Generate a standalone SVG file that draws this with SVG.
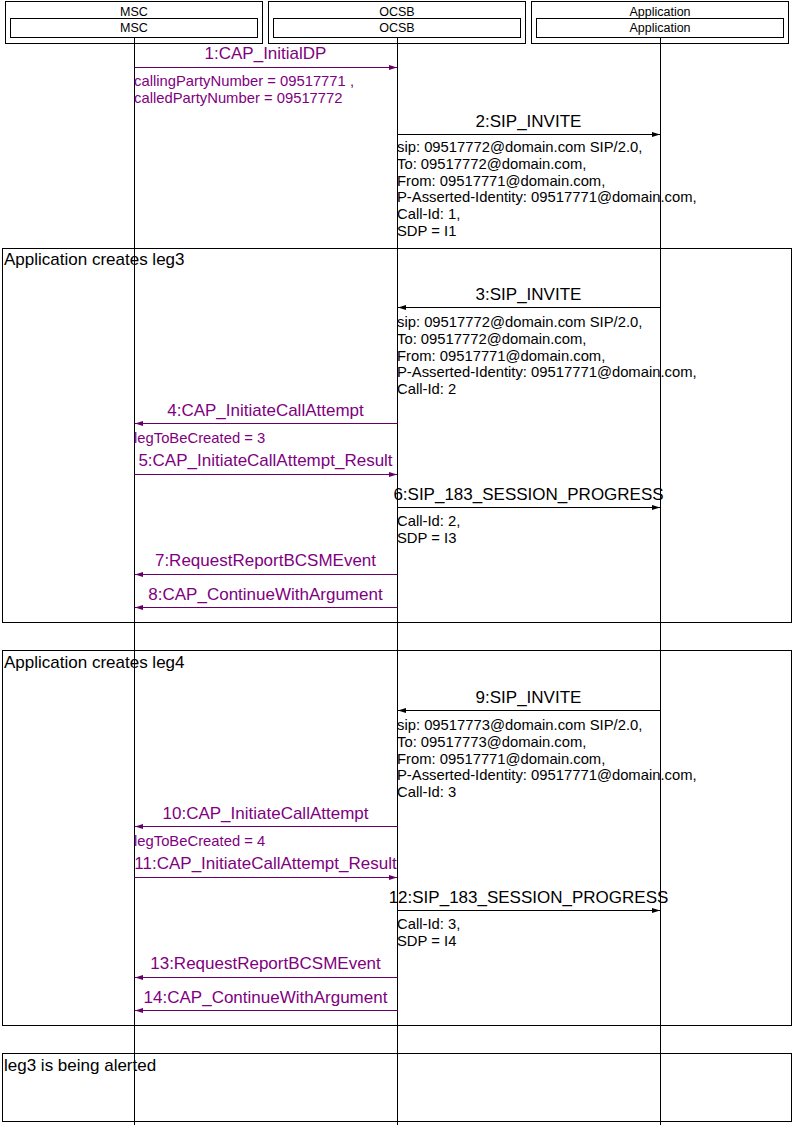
<svg xmlns="http://www.w3.org/2000/svg" width="796" height="1125" viewBox="0 0 796 1125">
<style>
text{font-family:"Liberation Sans",Arial,sans-serif}
.hdr{font-size:12.5px;fill:#000;text-anchor:middle}
.box{fill:none;stroke:#000;stroke-width:1}
.life{stroke:#000;stroke-width:1}
.frame{fill:none;stroke:#000;stroke-width:1}
.flbl{font-size:17px;fill:#000}
.mp{font-size:17px;fill:#800080;text-anchor:middle}
.mb{font-size:17px;fill:#000;text-anchor:middle}
.np{font-size:14.8px;fill:#800080}
.nb{font-size:14.8px;fill:#000}
.ap{stroke:#660066;stroke-width:1;fill:none;marker-end:url(#hp)}
.ab{stroke:#000;stroke-width:1;fill:none;marker-end:url(#hb)}
</style>
<defs>
<marker id="hp" markerUnits="userSpaceOnUse" markerWidth="9" markerHeight="6" refX="8" refY="3" orient="auto"><path d="M0,0.5 L8,3 L0,5.5 z" fill="#660066"/></marker>
<marker id="hb" markerUnits="userSpaceOnUse" markerWidth="9" markerHeight="6" refX="8" refY="3" orient="auto"><path d="M0,0.5 L8,3 L0,5.5 z" fill="#000"/></marker>
</defs>
<rect width="796" height="1125" fill="#fff"/>
<g id="frames">
<rect class="frame" x="2.5" y="248.5" width="789" height="374"/>
<text class="flbl" x="4" y="265">Application creates leg3</text>
<rect class="frame" x="2.5" y="650.5" width="789" height="375"/>
<text class="flbl" x="4" y="668">Application creates leg4</text>
<rect class="frame" x="2.5" y="1053.5" width="789" height="68"/>
<text class="flbl" x="4" y="1071">leg3 is being alerted</text>
</g>
<g id="MSC">
<rect class="box" x="5.5" y="1.5" width="257" height="42"/>
<rect class="box" x="10.5" y="18.5" width="247" height="19"/>
<text class="hdr" x="134" y="16">MSC</text>
<text class="hdr" x="134" y="32">MSC</text>
<line class="life" x1="134.5" y1="37" x2="134.5" y2="1125"/>
</g>
<g id="OCSB">
<rect class="box" x="268.5" y="1.5" width="257" height="42"/>
<rect class="box" x="273.5" y="18.5" width="247" height="19"/>
<text class="hdr" x="397" y="16">OCSB</text>
<text class="hdr" x="397" y="32">OCSB</text>
<line class="life" x1="397.5" y1="37" x2="397.5" y2="1125"/>
</g>
<g id="Application">
<rect class="box" x="531.5" y="1.5" width="257" height="42"/>
<rect class="box" x="536.5" y="18.5" width="247" height="19"/>
<text class="hdr" x="660" y="16">Application</text>
<text class="hdr" x="660" y="32">Application</text>
<line class="life" x1="660.5" y1="37" x2="660.5" y2="1125"/>
</g>
<g id="connectors">
<text class="mp" x="265.5" y="59">1:CAP_InitialDP</text>
<line class="ap" x1="134.5" y1="67.5" x2="397" y2="67.5"/>
<text class="np" x="134" y="86">callingPartyNumber = 09517771 ,</text>
<text class="np" x="134" y="103">calledPartyNumber = 09517772</text>

<text class="mb" x="528.5" y="127">2:SIP_INVITE</text>
<line class="ab" x1="397.5" y1="134.5" x2="660" y2="134.5"/>
<text class="nb" x="397" y="152">sip: 09517772@domain.com SIP/2.0,</text>
<text class="nb" x="397" y="169">To: 09517772@domain.com,</text>
<text class="nb" x="397" y="185.5">From: 09517771@domain.com,</text>
<text class="nb" x="397" y="202">P-Asserted-Identity: 09517771@domain.com,</text>
<text class="nb" x="397" y="219">Call-Id: 1,</text>
<text class="nb" x="397" y="235.5">SDP = I1</text>

<text class="mb" x="528.5" y="300">3:SIP_INVITE</text>
<line class="ab" x1="660.5" y1="307.5" x2="398" y2="307.5"/>
<text class="nb" x="397" y="327">sip: 09517772@domain.com SIP/2.0,</text>
<text class="nb" x="397" y="344">To: 09517772@domain.com,</text>
<text class="nb" x="397" y="360.5">From: 09517771@domain.com,</text>
<text class="nb" x="397" y="377">P-Asserted-Identity: 09517771@domain.com,</text>
<text class="nb" x="397" y="393.5">Call-Id: 2</text>

<text class="mp" x="265.5" y="416">4:CAP_InitiateCallAttempt</text>
<line class="ap" x1="397.5" y1="423.5" x2="135" y2="423.5"/>
<text class="np" x="134" y="443">legToBeCreated = 3</text>
<text class="mp" x="265.5" y="466">5:CAP_InitiateCallAttempt_Result</text>
<line class="ap" x1="134.5" y1="474.5" x2="397" y2="474.5"/>

<text class="mb" x="528.5" y="500">6:SIP_183_SESSION_PROGRESS</text>
<line class="ab" x1="397.5" y1="507.5" x2="660" y2="507.5"/>
<text class="nb" x="397" y="526">Call-Id: 2,</text>
<text class="nb" x="397" y="543">SDP = I3</text>

<text class="mp" x="265.5" y="566">7:RequestReportBCSMEvent</text>
<line class="ap" x1="397.5" y1="574.5" x2="135" y2="574.5"/>
<text class="mp" x="265.5" y="600">8:CAP_ContinueWithArgument</text>
<line class="ap" x1="397.5" y1="607.5" x2="135" y2="607.5"/>

<text class="mb" x="528.5" y="703">9:SIP_INVITE</text>
<line class="ab" x1="660.5" y1="710.5" x2="398" y2="710.5"/>
<text class="nb" x="397" y="730">sip: 09517773@domain.com SIP/2.0,</text>
<text class="nb" x="397" y="747">To: 09517773@domain.com,</text>
<text class="nb" x="397" y="763.5">From: 09517771@domain.com,</text>
<text class="nb" x="397" y="780">P-Asserted-Identity: 09517771@domain.com,</text>
<text class="nb" x="397" y="796.5">Call-Id: 3</text>

<text class="mp" x="265.5" y="819">10:CAP_InitiateCallAttempt</text>
<line class="ap" x1="397.5" y1="826.5" x2="135" y2="826.5"/>
<text class="np" x="134" y="846">legToBeCreated = 4</text>
<text class="mp" x="265.5" y="869">11:CAP_InitiateCallAttempt_Result</text>
<line class="ap" x1="134.5" y1="877.5" x2="397" y2="877.5"/>

<text class="mb" x="528.5" y="903">12:SIP_183_SESSION_PROGRESS</text>
<line class="ab" x1="397.5" y1="910.5" x2="660" y2="910.5"/>
<text class="nb" x="397" y="929">Call-Id: 3,</text>
<text class="nb" x="397" y="946">SDP = I4</text>

<text class="mp" x="265.5" y="969">13:RequestReportBCSMEvent</text>
<line class="ap" x1="397.5" y1="977.5" x2="135" y2="977.5"/>
<text class="mp" x="265.5" y="1003">14:CAP_ContinueWithArgument</text>
<line class="ap" x1="397.5" y1="1010.5" x2="135" y2="1010.5"/>
</g>
</svg>
